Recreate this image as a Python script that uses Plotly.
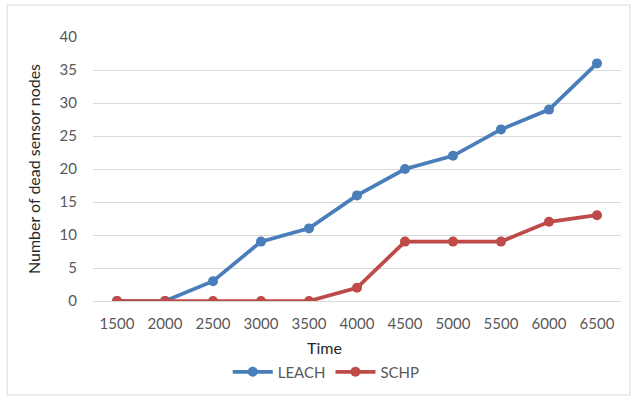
import plotly.graph_objects as go

times = ["1500", "2000", "2500", "3000", "3500", "4000", "4500", "5000", "5500", "6000", "6500"]
leach = [0, 0, 3, 9, 11, 16, 20, 22, 26, 29, 36]
schp = [0, 0, 0, 0, 0, 2, 9, 9, 9, 12, 13]

font_family = "Lato, Liberation Sans, Arial, sans-serif"

fig = go.Figure()
fig.add_trace(go.Scatter(x=times, y=leach, name="LEACH", mode="lines+markers",
                         line=dict(color="#4A7EBB", width=3.75),
                         marker=dict(color="#4A7EBB", size=10)))
fig.add_trace(go.Scatter(x=times, y=schp, name="SCHP", mode="lines+markers",
                         line=dict(color="#BE4B48", width=3.75),
                         marker=dict(color="#BE4B48", size=10)))

fig.update_layout(
    width=637, height=400,
    margin=dict(l=93, r=16, t=37, b=99, autoexpand=False),
    paper_bgcolor="white", plot_bgcolor="white",
    font=dict(family=font_family, size=15, color="#595959"),
    showlegend=True,
    legend=dict(orientation="h", x=(228 - 93) / 529, xanchor="left", y=(301 - 372) / 264, yanchor="middle",
                font=dict(size=15, color="#595959"), itemwidth=40, traceorder="normal",
                bgcolor="rgba(0,0,0,0)"),
    xaxis=dict(type="category", range=[-0.5, 10.5], showgrid=False, zeroline=False,
               showline=False, ticks="", ticklabelstandoff=12, automargin=False,
               tickfont=dict(size=15, color="#595959")),
    yaxis=dict(range=[0, 40], dtick=5, showgrid=True, gridcolor="#D9D9D9", gridwidth=1,
               zeroline=True, zerolinecolor="#D9D9D9", zerolinewidth=1, showline=False,
               ticks="", ticklabelstandoff=15, automargin=False,
               tickfont=dict(size=15, color="#595959"),
               title=dict(text="Number of dead sensor nodes", font=dict(size=16, color="#262626"),
                          standoff=14)),
    shapes=[dict(type="rect", xref="paper", yref="paper",
                 x0=(7 - 93) / 529, x1=(631 - 93) / 529, y0=(301 - 395) / 264, y1=(301 - 5) / 264,
                 line=dict(color="#D9D9D9", width=1), fillcolor="rgba(0,0,0,0)", layer="below")],
    annotations=[dict(text="Time", xref="paper", yref="paper", x=(325 - 93) / 529, y=(301 - 347) / 264,
                      xanchor="center", yanchor="middle", showarrow=False,
                      font=dict(size=16, color="#262626", family=font_family))],
)

fig.write_html("out.html", config={"displayModeBar": False},
               post_script="document.body.style.margin='0';")
